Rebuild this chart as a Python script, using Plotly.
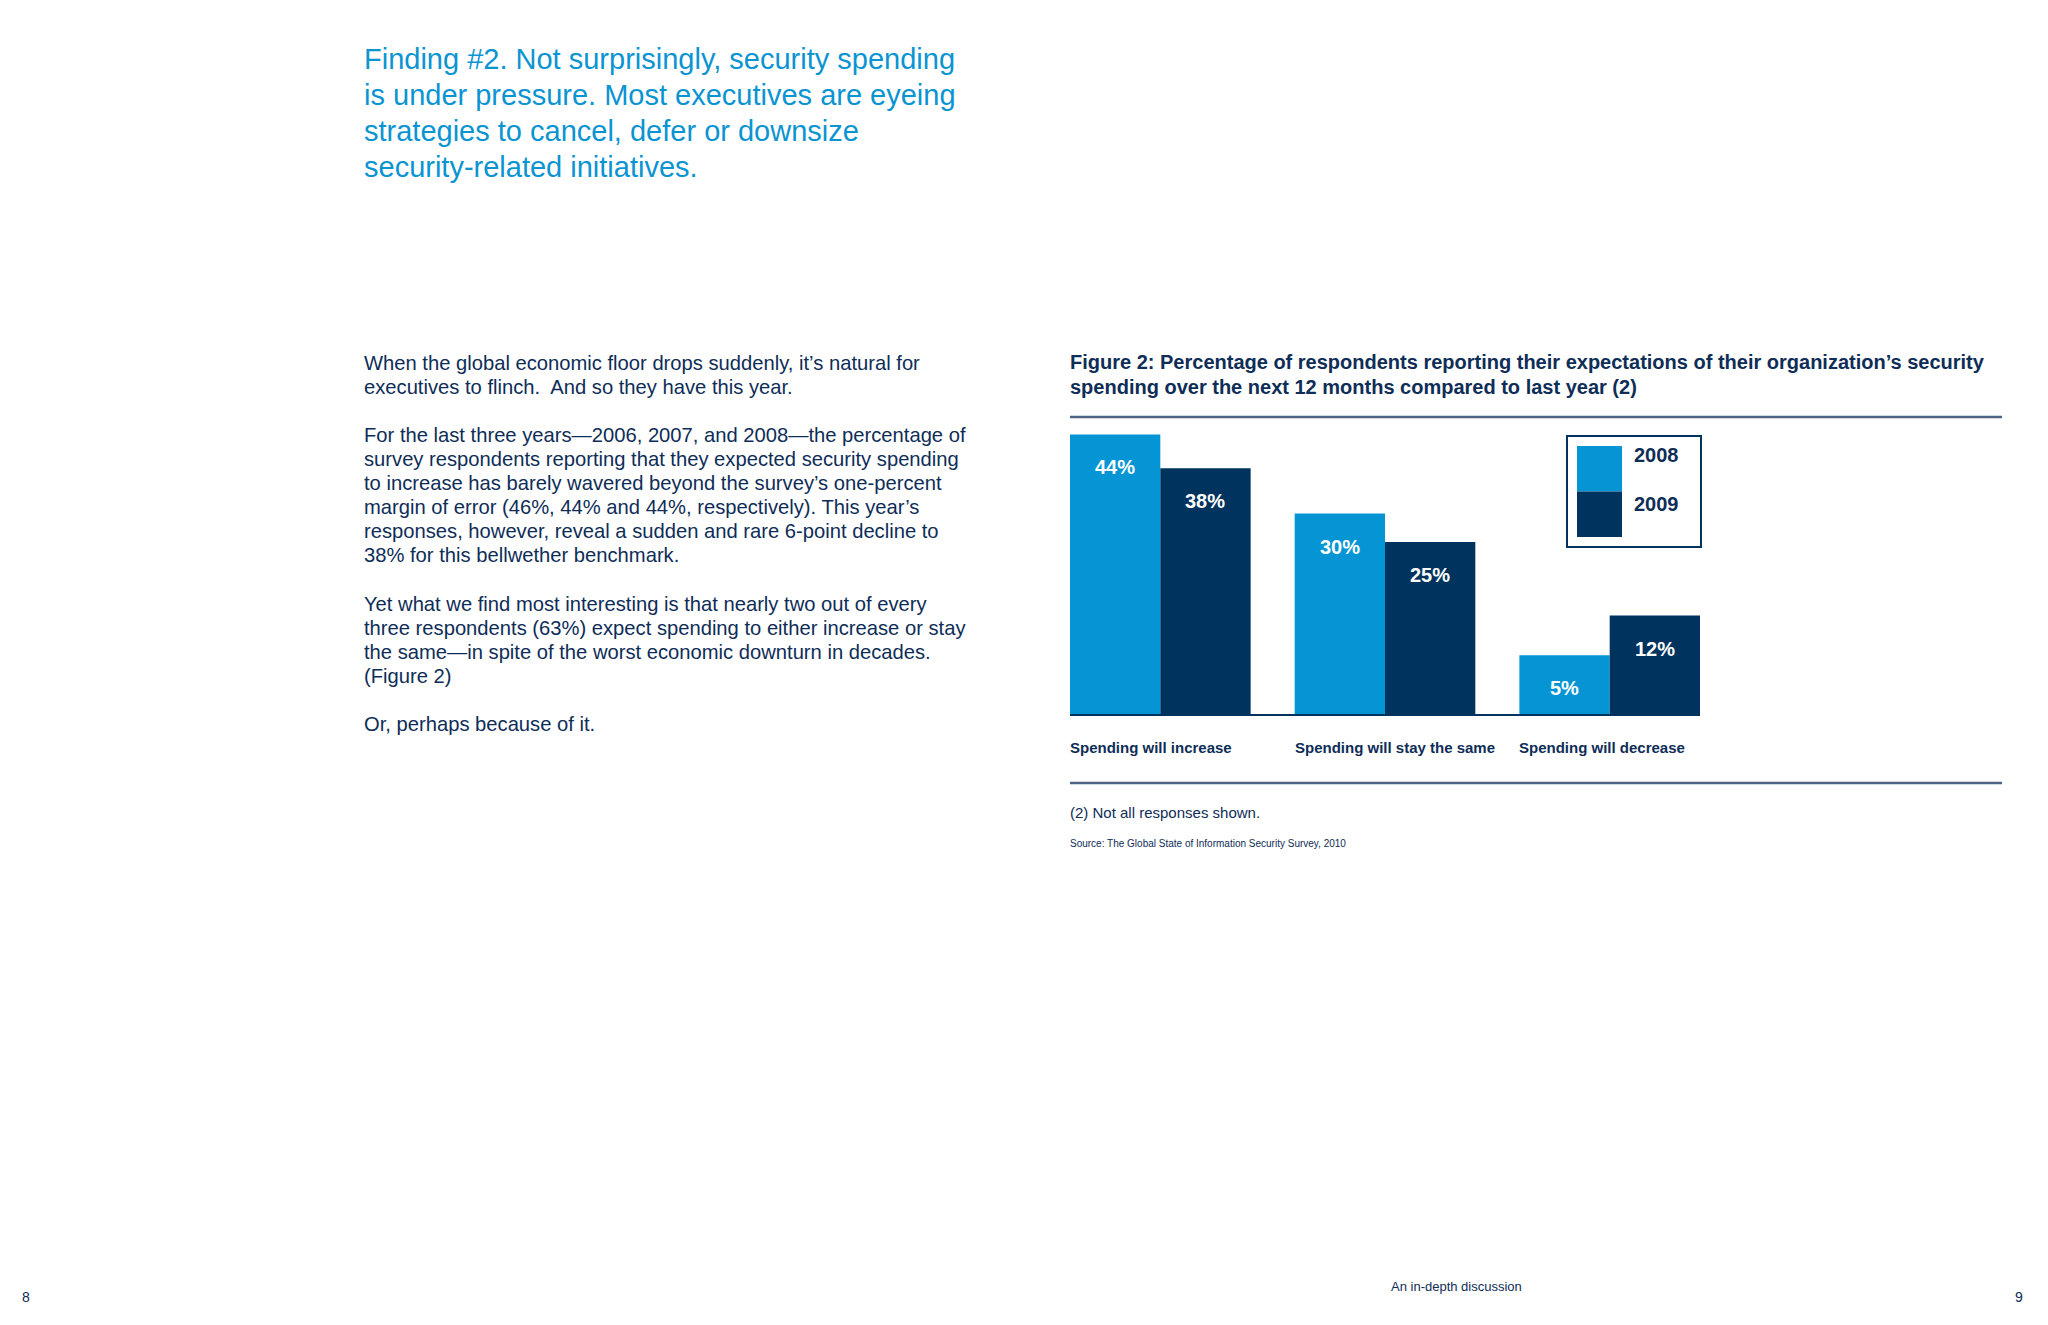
import plotly.graph_objects as go

# page size in px
W, H = 2048, 1325

# chart data
categories = ["Spending will increase", "Spending will stay the same", "Spending will decrease"]
years = ["2008", "2009"]
values_2008 = [44, 30, 5]
values_2009 = [38, 25, 12]

# text blocks
heading_lines = [
    "Finding #2. Not surprisingly, security spending",
    "is under pressure. Most executives are eyeing",
    "strategies to cancel, defer or downsize",
    "security-related initiatives.",
]
body_lines = [
    "When the global economic floor drops suddenly, it’s natural for",
    "executives to flinch.  And so they have this year.",
    "",
    "For the last three years—2006, 2007, and 2008—the percentage of",
    "survey respondents reporting that they expected security spending",
    "to increase has barely wavered beyond the survey’s one-percent",
    "margin of error (46%, 44% and 44%, respectively). This year’s",
    "responses, however, reveal a sudden and rare 6-point decline to",
    "38% for this bellwether benchmark.",
    "",
    "Yet what we find most interesting is that nearly two out of every",
    "three respondents (63%) expect spending to either increase or stay",
    "the same—in spite of the worst economic downturn in decades.",
    "(Figure 2)",
    "",
    "Or, perhaps because of it.",
]
chart_title_lines = [
    "Figure 2: Percentage of respondents reporting their expectations of their organization’s security",
    "spending over the next 12 months compared to last year (2)",
]
footnote = "(2) Not all responses shown."
source = "Source: The Global State of Information Security Survey, 2010"

LIGHT = "#0595D4"
DARK = "#00335E"
NAVY = "#0E2D57"
HEAD = "#0A94D2"
RULE = "#4E6584"
FONT = "Liberation Sans, Arial, Helvetica, sans-serif"

# the bars in the original sit on a baseline a little below zero
Y0 = -5.4
bargap = 0.196


def px(x):
    return x / W


def py(y):
    return 1 - y / H


fig = go.Figure()
for yr, vals, col in [(years[0], values_2008, LIGHT), (years[1], values_2009, DARK)]:
    fig.add_trace(go.Bar(
        x=list(range(len(categories))), y=[v - Y0 for v in vals], base=Y0,
        name=yr, marker=dict(color=col, line=dict(width=0)),
        hovertext=[f"{c}: {v}%" for c, v in zip(categories, vals)], hoverinfo="text",
    ))

fig.update_layout(
    width=W, height=H, margin=dict(l=0, r=0, t=0, b=0),
    paper_bgcolor="white", plot_bgcolor="white",
    barmode="group", bargap=bargap, bargroupgap=0, showlegend=False,
    font=dict(family=FONT, color=NAVY),
    xaxis=dict(domain=[px(1070), px(1700)],
               range=[-0.5 + bargap / 2, len(categories) - 0.5 - bargap / 2],
               showticklabels=False, ticks="", showgrid=False, zeroline=False,
               showline=True, linecolor=DARK, linewidth=1.5),
    yaxis=dict(domain=[py(714), py(417)], range=[Y0, 47.07],
               showticklabels=False, ticks="", showgrid=False, zeroline=False, showline=False),
)

# value labels inside the top of each bar
half = (1 - bargap) / 4
for i in range(len(categories)):
    for off, vals in [(-half, values_2008), (half, values_2009)]:
        fig.add_annotation(x=i + off, y=vals[i], xref="x", yref="y", yshift=-33,
                           text=f"<b>{vals[i]}%</b>", showarrow=False,
                           font=dict(size=20, color="white", family=FONT))
    # category labels, left aligned under each group
    fig.add_annotation(x=i - 0.5 + bargap / 2, y=py(747), xref="x", yref="paper",
                       xanchor="left", yanchor="middle", text=f"<b>{categories[i]}</b>",
                       xshift=-2, showarrow=False, font=dict(size=15, color=NAVY, family=FONT))


def add_line(text, x, y, size, color, bold=False, anchor="left"):
    if not text:
        return
    if bold:
        text = f"<b>{text}</b>"
    fig.add_annotation(x=px(x), y=py(y), xref="paper", yref="paper", xanchor=anchor,
                       yanchor="middle", text=text, showarrow=False,
                       font=dict(size=size, color=color, family=FONT))


# heading
for k, line in enumerate(heading_lines):
    add_line(line, 362, 59 + k * 36.1, 29, HEAD)

# body paragraphs
for k, line in enumerate(body_lines):
    add_line(line, 362, 362.6 + k * 24.1, 20.2, NAVY)

# chart title
for k, line in enumerate(chart_title_lines):
    add_line(line, 1068, 362 + k * 24.8, 20, NAVY, bold=True)

add_line(footnote, 1068, 812, 15, NAVY)
add_line(source, 1068, 843, 10, NAVY)

# footer
add_line("An in-depth discussion", 1456, 1286, 13, NAVY, anchor="center")
add_line("8", 26, 1297, 14, NAVY, anchor="center")
add_line("9", 2019, 1297, 14, NAVY, anchor="center")

# horizontal rules around the figure
for yy in [417, 783]:
    fig.add_shape(type="line", xref="paper", yref="paper", x0=px(1070), x1=px(2002),
                  y0=py(yy), y1=py(yy), line=dict(color=RULE, width=2.5))

# legend box built by hand: stacked swatches
fig.add_shape(type="rect", xref="paper", yref="paper", x0=px(1567), x1=px(1701),
              y0=py(547), y1=py(436), line=dict(color=DARK, width=2), fillcolor="white", layer="below")
for k, (yr, col) in enumerate([(years[0], LIGHT), (years[1], DARK)]):
    top = 446 + k * 45.5
    fig.add_shape(type="rect", xref="paper", yref="paper", x0=px(1577), x1=px(1622),
                  y0=py(top + 45.5), y1=py(top), line=dict(width=0), fillcolor=col)
    add_line(yr, 1656, 455 + k * 49, 20, NAVY, bold=True, anchor="center")

fig.write_html("out.html", config={"displayModeBar": False},
               post_script="document.body.style.margin='0';")
